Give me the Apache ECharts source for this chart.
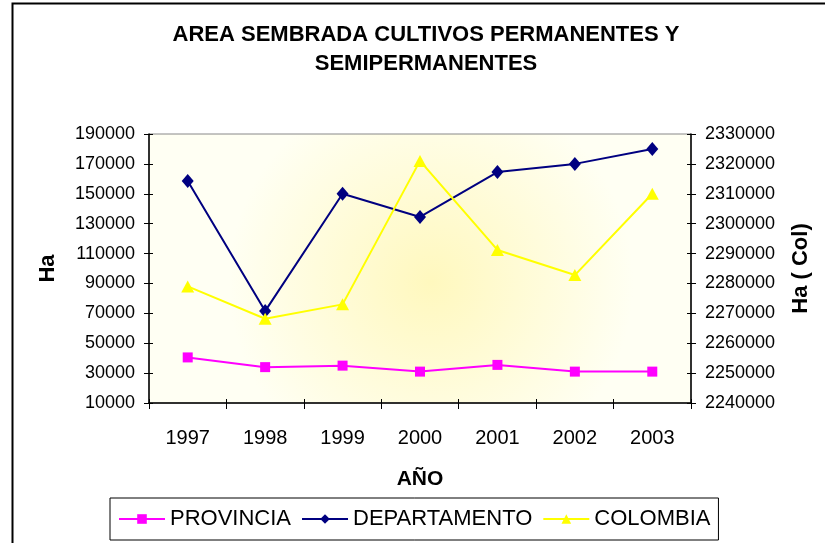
<!DOCTYPE html>
<html>
<head>
<meta charset="utf-8">
<script src="https://cdn.jsdelivr.net/npm/echarts@6/dist/echarts.min.js"></script>
<style>
html,body{margin:0;padding:0;background:#fff;}
#c{width:825px;height:543px;}
</style>
</head>
<body>
<div id="c"></div>
<script>
const years = ['1997','1998','1999','2000','2001','2002','2003'];
const provincia = [40500, 34000, 35000, 31000, 35500, 31000, 31000];
const departamento = [158500, 71500, 150000, 134500, 164500, 170000, 180000];
const colombia = [2279000, 2268200, 2273000, 2321000, 2291200, 2282800, 2310000];
const leftTicks = {min: 10000, max: 190000, interval: 20000};
const rightTicks = {min: 2240000, max: 2330000, interval: 10000};

const FONT = '"Liberation Sans", Arial, sans-serif';
const plain = v => String(v);
const chart = echarts.init(document.getElementById('c'), null, {renderer: 'canvas'});

function tickOnlyY(pos, t) {
  return {
    type: 'value', position: pos, gridIndex: 0,
    min: t.min, max: t.max, interval: t.interval,
    axisLine: {show: false},
    axisTick: {show: true, inside: true, length: 4, lineStyle: {color: '#000'}},
    axisLabel: {show: false}, splitLine: {show: false}
  };
}

chart.setOption({
  animation: false,
  backgroundColor: '#ffffff',
  textStyle: {fontFamily: FONT, color: '#000'},
  title: {
    text: 'AREA SEMBRADA CULTIVOS PERMANENTES Y\nSEMIPERMANENTES',
    left: 421, top: 15,
    textAlign: 'center',
    textStyle: {fontFamily: FONT, fontSize: 22, fontWeight: 'bold', color: '#000', lineHeight: 29}
  },
  graphic: [{
    type: 'rect', left: 10, top: 1, z: -1,
    shape: {width: 830, height: 560},
    style: {fill: 'none', stroke: '#000', lineWidth: 2}
  }],
  legend: {
    left: 110, top: 498,
    padding: [10, 8, 10, 8],
    borderColor: '#000', borderWidth: 1,
    itemWidth: 46, itemHeight: 12, itemGap: 10,
    textStyle: {fontFamily: FONT, fontSize: 22, color: '#000'},
    data: ['PROVINCIA', 'DEPARTAMENTO', 'COLOMBIA']
  },
  grid: {
    left: 149, right: 134, top: 134, bottom: 140,
    show: true, borderColor: '#888', borderWidth: 1,
    backgroundColor: {
      type: 'radial', x: 0.52, y: 0.55, r: 0.75,
      colorStops: [{offset: 0, color: '#FFF8BE'}, {offset: 1, color: '#FFFFF3'}]
    }
  },
  xAxis: [{
    type: 'category', data: years, boundaryGap: true, position: 'bottom',
    name: 'AÑO', nameLocation: 'middle', nameGap: 66,
    nameTextStyle: {fontFamily: FONT, fontSize: 21, fontWeight: 'bold', color: '#000'},
    axisLine: {lineStyle: {color: '#000', width: 1.5}},
    axisTick: {show: true, length: 6, lineStyle: {color: '#000'}},
    axisLabel: {fontFamily: FONT, fontSize: 20, color: '#000', margin: 25},
    splitLine: {show: false}
  }, {
    type: 'category', data: years, boundaryGap: true, position: 'bottom',
    axisLine: {show: false},
    axisTick: {show: true, inside: true, length: 4, lineStyle: {color: '#000'}},
    axisLabel: {show: false}, splitLine: {show: false}
  }],
  yAxis: [{
    type: 'value', position: 'left',
    min: leftTicks.min, max: leftTicks.max, interval: leftTicks.interval,
    name: 'Ha', nameLocation: 'middle', nameGap: 90, nameRotate: 90,
    nameTextStyle: {fontFamily: FONT, fontSize: 22, fontWeight: 'bold', color: '#000'},
    axisLine: {show: true, lineStyle: {color: '#000', width: 1.5}},
    axisTick: {show: true, length: 5, lineStyle: {color: '#000'}},
    axisLabel: {fontFamily: FONT, fontSize: 18, color: '#000', margin: 14, formatter: plain},
    splitLine: {show: false}
  }, {
    type: 'value', position: 'right',
    min: rightTicks.min, max: rightTicks.max, interval: rightTicks.interval,
    name: 'Ha ( Col)', nameLocation: 'middle', nameGap: 99, nameRotate: 90,
    nameTextStyle: {fontFamily: FONT, fontSize: 22, fontWeight: 'bold', color: '#000'},
    axisLine: {show: true, lineStyle: {color: '#000', width: 1.5}},
    axisTick: {show: true, length: 5, lineStyle: {color: '#000'}},
    axisLabel: {fontFamily: FONT, fontSize: 18, color: '#000', margin: 14, formatter: plain},
    splitLine: {show: false}
  },
  tickOnlyY('left', leftTicks),
  tickOnlyY('right', rightTicks)],
  series: [{
    name: 'PROVINCIA', type: 'line', yAxisIndex: 0, data: provincia,
    symbol: 'rect', symbolSize: 10,
    lineStyle: {color: '#FF00FF', width: 2},
    itemStyle: {color: '#FF00FF'}
  }, {
    name: 'DEPARTAMENTO', type: 'line', yAxisIndex: 0, data: departamento,
    symbol: 'diamond', symbolSize: [12, 14],
    lineStyle: {color: '#000080', width: 2},
    itemStyle: {color: '#000080'}
  }, {
    name: 'COLOMBIA', type: 'line', yAxisIndex: 1, data: colombia,
    symbol: 'triangle', symbolSize: [13, 12],
    lineStyle: {color: '#FFFF00', width: 2},
    itemStyle: {color: '#FFFF00'}
  }]
});
</script>
</body>
</html>
